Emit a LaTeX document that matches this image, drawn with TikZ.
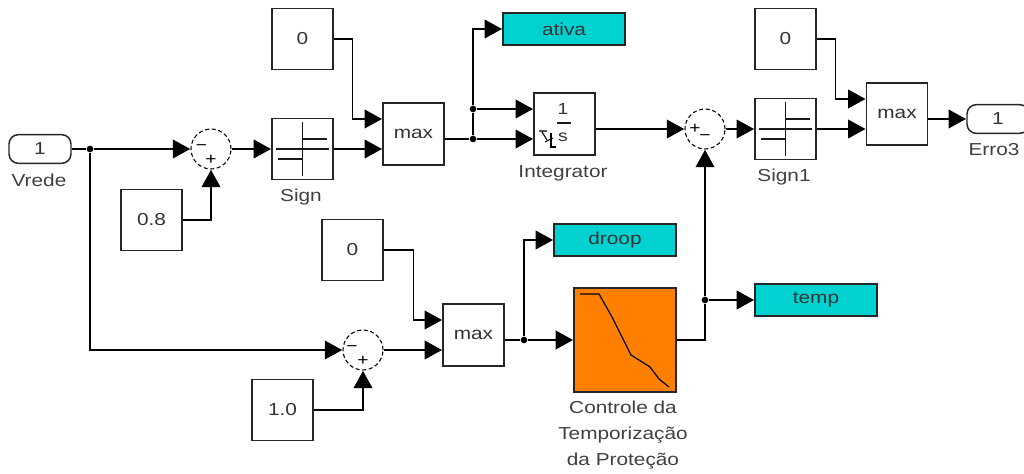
\documentclass[tikz,border=0pt]{standalone}
\usepackage{fontspec}
\setmainfont[FakeStretch=1.2]{Liberation Sans}
\usetikzlibrary{arrows.meta}
\definecolor{gotoc}{RGB}{0,210,210}
\definecolor{orangec}{RGB}{255,128,0}
\tikzset{
  px/.style={x=0.75pt,y=-0.75pt},
  blk/.style={draw=black!85,line width=1.1pt,fill=white,inner sep=0pt,font=\fontsize{13}{15}\selectfont,text=black!80},
  sq/.style={blk,minimum width=45.75pt,minimum height=45.5pt},
  maxb/.style={blk,minimum width=45.75pt,minimum height=46.5pt},
  gotob/.style={blk,fill=gotoc,minimum width=91.5pt,minimum height=24pt},
  port/.style={blk,rounded corners=7pt,minimum width=46.5pt,minimum height=21.5pt},
  sumb/.style={circle,draw=black,line width=0.8pt,densely dashed,fill=white,inner sep=0pt,minimum size=30pt},
  lbl/.style={inner sep=0pt,font=\fontsize{13}{19.5}\selectfont,text=black!75,align=center},
  sgn/.style={inner sep=0pt,font=\fontsize{12}{12}\selectfont},
  wire/.style={line width=1.1pt,black},
  arr/.style={wire,-{Triangle[length=13pt,width=14pt]},shorten >=0.2pt},
  dotj/.style={circle,fill=black,inner sep=0pt,minimum size=5pt},
  icon/.style={line width=1pt,black!90}
}
\begin{document}
\begin{tikzpicture}[px]
\useasboundingbox (0,0) rectangle (1024,474);
\clip (0,0) rectangle (1024,474);
% blocks
\node[port] (vrede) at (40,149) {1};
\node[lbl] (vredel) at (39,180) {Vrede};
\node[sumb] (s1) at (211,149) {};
\node[sq] (c1) at (302.5,39) {0};
\node[sq] (c08) at (151.5,220) {0.8};
\node[sq] (sign) at (302.5,149) {};
\node[lbl] (signl) at (301,197) {Sign};
\node[maxb] (m1) at (413.5,134) {max};
\node[gotob] (ativa) at (564,29) {ativa};
\node[maxb] (int) at (564.5,124) {};
\node[lbl] (intl) at (563,173) {Integrator};
\node[sumb] (s2) at (705,129) {};
\node[sq] (sign1) at (785.5,129) {};
\node[lbl] (sign1l) at (784,177) {Sign1};
\node[sq] (c2) at (785.5,39) {0};
\node[maxb] (m3) at (897,114) {max};
\node[port] (out) at (998,119) {1};
\node[lbl] (outl) at (994,150) {Erro3};
\node[sq] (c3) at (352.5,250) {0};
\node[maxb] (m2) at (473.5,335) {max};
\node[sumb] (s3) at (363,350) {};
\node[sq] (c10) at (282.5,410) {1.0};
\node[gotob] (droop) at (615,240) {droop};
\node[blk,fill=orangec,minimum width=76.5pt,minimum height=78pt] (ctl) at (625,340) {};
\node[lbl] (ctll) at (623,435) {Controle da\\Temporização\\da Proteção};
\node[gotob] (temp) at (816,300) {temp};
% ports and junctions
\coordinate (m1a) at (m1.west |- 0,119);
\coordinate (m1b) at (m1.west |- 0,149);
\coordinate (m1o) at (m1.east |- 0,139);
\coordinate (inta) at (int.west |- 0,109);
\coordinate (intb) at (int.west |- 0,139);
\coordinate (into) at (int.east |- 0,129);
\coordinate (m3a) at (m3.west |- 0,99);
\coordinate (m3b) at (m3.west |- 0,129);
\coordinate (m3o) at (m3.east |- 0,119);
\coordinate (m2a) at (m2.west |- 0,320);
\coordinate (m2b) at (m2.west |- 0,350);
\coordinate (m2o) at (m2.east |- 0,340);
\node[dotj] (j1) at (90,149) {};
\node[dotj] (j2) at (473,139) {};
\node[dotj] (j3) at (473,109) {};
\node[dotj] (j4) at (524,340) {};
\node[dotj] (j5) at (705,300) {};
% wires
\draw[wire] (vrede.east) -- (j1);
\draw[arr] (j1) -- (s1.west);
\draw[arr] (j1) |- (s3.west);
\draw[arr] (c08.east) -| (s1.south);
\draw[arr] (s1.east) -- (sign.west);
\draw[arr] (c1.east) -- ++(19,0) |- (m1a);
\draw[arr] (sign.east) -- (m1b);
\draw[wire] (m1o) -- (j2);
\draw[wire] (j2) -- (j3);
\draw[arr] (j3) |- (ativa.west);
\draw[arr] (j3) -- (inta);
\draw[arr] (j2) -- (intb);
\draw[arr] (into) -- (s2.west);
\draw[arr] (s2.east) -- (sign1.west);
\draw[arr] (c2.east) -- ++(19,0) |- (m3a);
\draw[arr] (sign1.east) -- (m3b);
\draw[arr] (m3o) -- (out.west);
\draw[arr] (c3.east) -- ++(30,0) |- (m2a);
\draw[arr] (s3.east) -- (m2b);
\draw[arr] (c10.east) -| (s3.south);
\draw[wire] (m2o) -- (j4);
\draw[arr] (j4) |- (droop.west);
\draw[arr] (j4) -- (ctl.west);
\draw[wire] (ctl.east) -| (j5);
\draw[arr] (j5) -- (s2.south);
\draw[arr] (j5) -- (temp.west);
% sum signs
\node[sgn] (s1m) at (201.5,148) {−};
\node[sgn] (s1p) at (211,160) {+};
\node[sgn] (s2p) at (695,129) {+};
\node[sgn] (s2m) at (705,138) {−};
\node[sgn] (s3m) at (352,349) {−};
\node[sgn] (s3p) at (363,361) {+};
% sign icons
\foreach \c in {sign,sign1}{
  \draw[icon] ([xshift=-20pt]\c.center) -- ([xshift=20pt]\c.center);
  \draw[icon] ([yshift=-20pt]\c.center) -- ([yshift=20pt]\c.center);
  \draw[icon] ([yshift=7.5pt]\c.center) -- ++(18.5pt,0);
  \draw[icon] ([yshift=-7.5pt]\c.center) -- ++(-18.5pt,0);
}
% integrator icon
\node[sgn,text=black!80] (int1) at (563,109) {1};
\draw[icon] (557,123) -- (571,123);
\node[sgn,text=black!80] (ints) at (563,137) {s};
\draw[line width=0.8pt] (539,131) -- (547,131) (542,132) -- (547,140);
\draw[line width=0.8pt] (545,142) -- (553,138);
\draw[line width=0.8pt] (551,133) -- (551,147) -- (556,147);
% lookup curve
\draw[line width=0.9pt] (580,294) -- (599,294) -- (612,317) -- (631,355) -- (650,367) -- (659,379) -- (669,387);
\end{tikzpicture}
\end{document}
